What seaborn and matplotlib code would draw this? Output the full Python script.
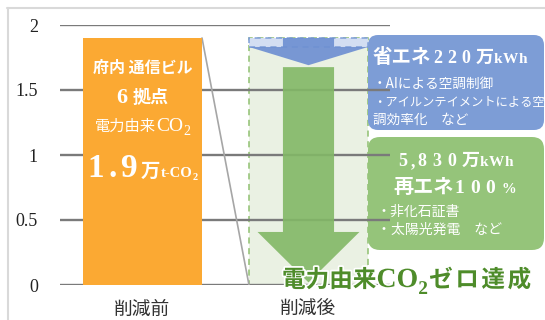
import matplotlib
matplotlib.use("Agg")
import numpy as np
import pandas as pd
import seaborn as sns
import matplotlib.pyplot as plt
from matplotlib.transforms import IdentityTransform
from matplotlib.patches import Polygon, Rectangle, FancyBboxPatch
from matplotlib.lines import Line2D
import matplotlib.patheffects as pe

# ---------------- data ----------------
categories = ["削減前", "削減後"]
co2_values = [1.9, 1.9]          # 万t-CO2 (second bar drawn as the "removed" ghost)
yticks = [0, 0.5, 1, 1.5, 2]
ytick_labels = ["0", "0.5", "1", "1.5", "2"]
saving_kwh = 220                 # 万kWh 省エネ
renew_kwh = 5830                 # 万kWh 再エネ
renew_pct = 100
sites = 6

sns.set_theme(style="white")
JP = ["Noto Sans CJK JP", "DejaVu Sans"]
SERIF = ["Liberation Serif", "DejaVu Serif"]
plt.rcParams["font.family"] = JP

ORANGE = "#FBA933"
GHOST = "#EAF1E3"
GHOST_EDGE = "#8FC070"
BLUE_BOX = "#7D9DD6"
GREEN_BOX = "#95C47A"
BLUE_ARROW = "#6E90D2"
GREEN_ARROW = "#82B866"
DARK_GREEN = "#4E8C2A"

fig = plt.figure(figsize=(5.45, 3.2), dpi=100)
ax = fig.add_axes([60 / 545, 35 / 320, 330 / 545, 260 / 320])
ax.set_facecolor("none")

df = pd.DataFrame({"cat": categories, "val": co2_values})
sns.barplot(data=df, x="cat", y="val", hue="cat", palette=[ORANGE, GHOST],
            width=0.717, saturation=1, legend=False, ax=ax)
ax.set_xlim(-0.497, 1.491)
ax.set_ylim(0, 2)

bar0, bar1 = ax.patches[0], ax.patches[1]
bar0.set_zorder(2)
bar0.set_edgecolor("none")
bar1.set_zorder(0.3)
bar1.set_edgecolor(GHOST_EDGE)
bar1.set_linestyle((0, (4, 3)))
bar1.set_linewidth(1.1)

ax.set_yticks(yticks)
ax.set_yticklabels(ytick_labels, fontfamily=SERIF, fontsize=13, color="#222222")
ax.tick_params(axis="y", length=0, pad=16)
ax.tick_params(axis="x", length=0, pad=10)
for lab in ax.get_xticklabels():
    lab.set_fontsize(13.5)
    lab.set_color("#333333")
ax.set_xlabel("")
ax.set_ylabel("")
ax.grid(axis="y", color="#7A7A7A", lw=1.7)
ax.grid(axis="x", visible=False)
ax.set_axisbelow(True)
sns.despine(ax=ax, left=True, bottom=True)

# connector line
x0r = bar0.get_x() + bar0.get_width()
x1l = bar1.get_x()
ax.plot([x0r, x1l], [co2_values[0], 0], color="#A6A6A6", lw=1.2, zorder=1.5)

# saving band and arrows
xc = bar1.get_x() + bar1.get_width() / 2
hw = bar1.get_width() / 2
top = co2_values[1]
band_bottom = top * renew_kwh / (saving_kwh + renew_kwh)
ax.add_patch(Rectangle((bar1.get_x(), band_bottom), bar1.get_width(), top - band_bottom,
                       facecolor="#D3DEF2", edgecolor="#7F9FD8", ls=(0, (4, 3)), lw=1.1, zorder=0.35))
s = 0.154
blue_poly = [(xc - s, top), (xc + s, top), (xc + s, band_bottom), (xc + hw, band_bottom),
             (xc, band_bottom - 0.14), (xc - hw, band_bottom), (xc - s, band_bottom)]
ax.add_patch(Polygon(blue_poly, closed=True, facecolor=BLUE_ARROW, edgecolor="none",
                     alpha=0.92, zorder=0.6))
hh = 0.307
g_top = band_bottom - 0.155
g_head = 0.408
green_poly = [(xc - s, g_top), (xc + s, g_top), (xc + s, g_head), (xc + hh, g_head),
              (xc, 0.02), (xc - hh, g_head), (xc - s, g_head)]
ax.add_patch(Polygon(green_poly, closed=True, facecolor=GREEN_ARROW, edgecolor="none",
                     alpha=0.9, zorder=0.6))

# side boxes (pixel coords)
ID = IdentityTransform()
ax.add_patch(FancyBboxPatch((368, 190), 176, 95, boxstyle="round,pad=0,rounding_size=10",
                            facecolor=BLUE_BOX, edgecolor="none", transform=ID,
                            clip_on=False, zorder=0.3))
ax.add_patch(FancyBboxPatch((368, 70), 176, 113, boxstyle="round,pad=0,rounding_size=12",
                            facecolor=GREEN_BOX, edgecolor="none", transform=ID,
                            clip_on=False, zorder=0.3))

# outer frame
fig.add_artist(Line2D([7.5, 7.5], [0, 312.5], transform=ID, color="#D9D9D9", lw=1.5))
fig.add_artist(Line2D([7, 545], [312.5, 312.5], transform=ID, color="#D9D9D9", lw=1.5))

# ---------------- text runs ----------------
def P(s, size, bold=False, serif=False, color="white", dy=0, gap=0):
    return dict(s=s, size=size, weight="bold" if bold else "normal",
                family=SERIF if serif else JP, color=color, dy=dy, gap=gap)

def spaced(s, size, gap, **kw):
    out = []
    for i, c in enumerate(s):
        g = gap
        if c == "," or (i + 1 < len(s) and s[i + 1] == ","):
            g = 3
        out.append(P(c, size, gap=g, **kw))
    return out

def runs(x, y, parts, ha="center", effects=None):
    r = fig.canvas.get_renderer()
    objs = []
    for p in parts:
        t = fig.text(0, 0, p["s"], transform=ID, ha="left", va="baseline",
                     fontsize=p["size"], fontweight=p["weight"], family=p["family"],
                     color=p["color"], zorder=5)
        if effects:
            t.set_path_effects(effects)
        objs.append(t)
    widths = [t.get_window_extent(r).width for t in objs]
    total = sum(w + p["gap"] for w, p in zip(widths, parts)) - parts[-1]["gap"]
    cx = x - total / 2 if ha == "center" else x
    for t, w, p in zip(objs, widths, parts):
        t.set_position((cx, y + p["dy"]))
        cx += w + p["gap"]

# orange bar
bx = 142.5
runs(bx, 247, [P("府内 通信ビル", 11.5, bold=True)])
runs(bx, 217, [P(str(sites), 16, bold=True, serif=True, gap=5), P("拠点", 13, bold=True)])
runs(bx, 189, [P("電力由来", 11), P("CO", 14, serif=True), P("2", 10, serif=True, dy=-4)])
runs(bx, 143, spaced("1.9", 24, 4, bold=True, serif=True) +
     [P("万", 14, bold=True), P("t-CO", 10.5, bold=True, serif=True),
      P("2", 7.5, bold=True, serif=True, dy=-3)])

# blue box
runs(373, 257, [P("省エネ", 14, bold=True, gap=2)] +
     spaced(str(saving_kwh), 13, 5, bold=True, serif=True) +
     [P("万", 13, bold=True)] + spaced("kWh", 11, 0.5, bold=True, serif=True), ha="left")
runs(373, 232, [P("・AIによる空調制御", 9.8)], ha="left")
runs(373, 214, [P("・アイルンテイメントによる空", 8.8)], ha="left")
runs(373, 196, [P("調効率化　など", 9.8)], ha="left")

# green box
runs(456, 154, spaced(f"{renew_kwh:,}", 13, 5.5, bold=True, serif=True) +
     [P("万", 13, bold=True)] + spaced("kWh", 11, 1, bold=True, serif=True))
runs(455, 127, [P("再エネ", 14.5, bold=True)] +
     spaced(str(renew_pct), 14, 6, bold=True, serif=True) +
     [P("%", 10.5, bold=True, serif=True)])
runs(377, 104, [P("・非化石証書", 10)], ha="left")
runs(377, 86, [P("・太陽光発電　など", 10)], ha="left")

# big headline
stroke = [pe.withStroke(linewidth=2.5, foreground="white")]
runs(282, 33, [P("電力由来", 17, bold=True, color=DARK_GREEN),
               P("CO", 20, bold=True, serif=True, color=DARK_GREEN),
               P("2", 14, bold=True, serif=True, color=DARK_GREEN, dy=-7, gap=1)] +
     spaced("ゼロ達成", 17, 2.5, bold=True, color=DARK_GREEN), ha="left", effects=stroke)

fig.savefig("out.png", dpi=100, facecolor="white")
